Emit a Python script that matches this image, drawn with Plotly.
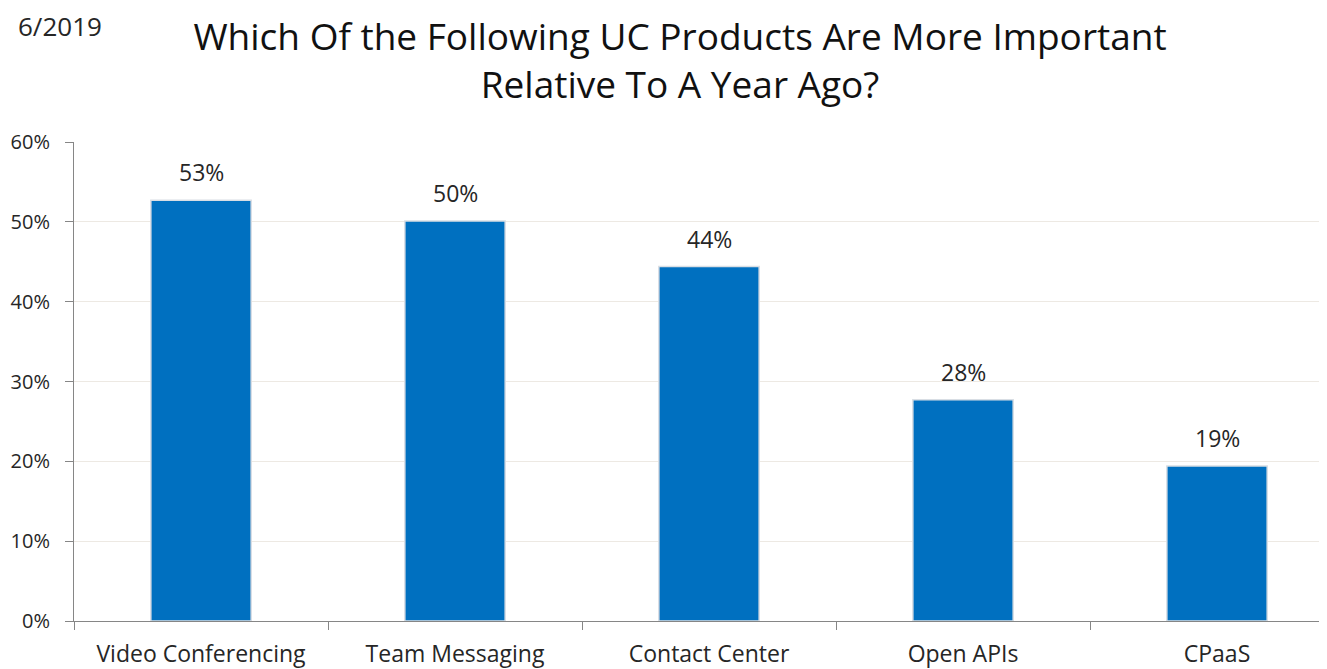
import plotly.graph_objects as go

categories = ["Video Conferencing", "Team Messaging", "Contact Center", "Open APIs", "CPaaS"]
values = [52.7, 50.1, 44.4, 27.7, 19.4]
labels = ["53%", "50%", "44%", "28%", "19%"]
y_ticks = [0, 10, 20, 30, 40, 50, 60]
y_tick_text = ["0%", "10%", "20%", "30%", "40%", "50%", "60%"]

FONT = "Open Sans, Liberation Sans, sans-serif"

fig = go.Figure()
fig.add_trace(go.Bar(
    x=categories, y=values,
    marker=dict(color="#0070C0", line=dict(color="#D9DEE4", width=1.5)),
    width=0.395,
))

annotations = [dict(text="6/2019", xref="paper", yref="paper", x=-0.046, y=1.2422,
                    xanchor="left", yanchor="middle", showarrow=False,
                    font=dict(size=26, color="#262626", family=FONT))]
for c, v, t in zip(categories, values, labels):
    annotations.append(dict(x=c, y=v, text=t, xref="x", yref="y", showarrow=False,
                            xanchor="center", yanchor="bottom", yshift=10,
                            font=dict(size=23, color="#262626", family=FONT)))

# page body has an 8px default margin, so the figure is offset by 8px
fig.update_layout(
    width=1319, height=661,
    margin=dict(l=66, r=0, t=134, b=48),
    paper_bgcolor="white", plot_bgcolor="white",
    showlegend=False,
    font=dict(family=FONT, color="#262626"),
    title=dict(text="Which Of the Following UC Products Are More Important<br>Relative To A Year Ago?",
               x=0.5095, xanchor="center", y=0.936, yanchor="middle",
               font=dict(size=37, color="#111111", family=FONT), automargin=False),
    annotations=annotations,
)
fig.update_yaxes(range=[0, 60], tickvals=y_ticks, ticktext=y_tick_text,
                 showgrid=True, gridcolor="#EDE9E3", gridwidth=1,
                 showline=True, linecolor="#868686", linewidth=1,
                 ticks="outside", ticklen=8, tickcolor="#868686",
                 ticklabelstandoff=11, automargin=False,
                 tickfont=dict(size=20, color="#262626"), zeroline=False)
fig.update_xaxes(range=[-0.5, 4.433], tickson="boundaries",
                 showline=True, linecolor="#868686", linewidth=1,
                 ticks="outside", ticklen=8, tickcolor="#868686",
                 ticklabelstandoff=12, automargin=False,
                 tickfont=dict(size=23, color="#262626"), showgrid=False)

fig.write_html("out.html")
